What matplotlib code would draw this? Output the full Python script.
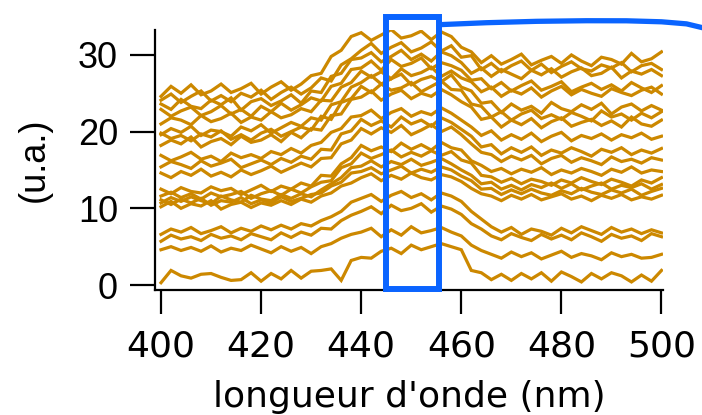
import numpy as np
import matplotlib
matplotlib.use("Agg")
import matplotlib.pyplot as plt
from matplotlib.patches import Rectangle

# longueurs d'onde (pas de 2 nm)
wavelength = np.arange(400, 501, 2)

# spectres décalés, du plus haut au plus bas
s01 = [24.6, 25.9, 25.0, 26.1, 24.8, 25.3, 26.2, 25.1, 25.6, 26.3,
       24.9, 25.8, 26.5, 25.4, 26.2, 27.3, 27.6, 29.8, 30.6, 32.4,
       32.9, 31.9, 32.6, 33.3, 32.2, 32.5, 33.1, 32.0, 33.0, 32.4,
       31.0, 30.4, 29.0, 29.9, 28.8, 29.4, 30.1, 28.7, 29.3, 29.8,
       28.9, 30.0, 29.2, 28.6, 29.7, 29.4, 28.8, 30.2, 29.1, 29.5, 30.4]
s02 = [24.1, 24.9, 23.8, 24.6, 25.3, 24.0, 24.7, 23.9, 25.0, 24.5,
       25.4, 24.2, 25.1, 25.8, 24.9, 25.7, 27.0, 26.6, 28.7, 29.5,
       30.6, 31.5, 30.2, 31.0, 31.6, 30.4, 30.9, 31.7, 30.5, 31.2,
       29.7, 29.9, 28.1, 28.9, 27.8, 28.6, 29.2, 28.0, 28.8, 27.7,
       28.5, 29.1, 28.2, 27.9, 28.7, 28.3, 29.0, 27.8, 28.6, 28.9, 28.1]
s03 = [23.6, 22.9, 24.2, 23.3, 23.0, 24.1, 23.5, 24.4, 22.8, 23.9,
       24.3, 23.4, 24.0, 24.8, 23.7, 25.3, 25.1, 27.2, 27.6, 29.4,
       29.6, 30.3, 29.1, 29.8, 30.6, 29.4, 30.1, 29.2, 30.4, 29.9,
       29.0, 27.6, 28.3, 27.2, 28.1, 27.5, 26.9, 28.0, 27.4, 28.2,
       27.1, 27.8, 28.3, 27.3, 27.6, 28.4, 27.0, 27.9, 27.5, 28.1, 27.3]
s04 = [22.9, 22.0, 22.7, 23.2, 22.1, 22.6, 23.4, 22.3, 22.9, 22.0,
       23.3, 22.6, 23.7, 22.8, 23.5, 24.4, 24.0, 25.9, 26.3, 28.1,
       28.3, 29.2, 28.0, 29.4, 28.5, 28.9, 29.6, 28.2, 29.0, 28.6,
       28.0, 26.7, 26.9, 25.6, 26.4, 25.3, 26.0, 26.6, 25.4, 25.9,
       26.5, 25.2, 25.8, 26.3, 25.5, 26.1, 25.3, 26.4, 25.7, 25.1, 26.0]
s05 = [21.0, 21.8, 21.5, 20.9, 22.1, 21.3, 21.7, 22.4, 21.2, 21.9,
       21.5, 22.6, 21.8, 22.2, 23.0, 22.6, 24.1, 24.0, 25.8, 26.4,
       27.9, 27.1, 27.8, 26.9, 28.2, 27.3, 27.7, 28.4, 27.2, 27.9,
       27.0, 26.5, 25.2, 25.8, 24.6, 25.4, 24.9, 25.7, 24.5, 25.3,
       25.9, 24.8, 25.5, 25.0, 24.6, 25.6, 25.1, 24.7, 25.4, 25.8, 24.9]
s06 = [19.6, 20.4, 19.9, 20.7, 19.5, 20.2, 20.0, 19.4, 20.6, 20.1,
       20.9, 19.8, 20.5, 21.2, 20.7, 21.8, 21.5, 23.5, 23.9, 25.8,
       26.4, 27.3, 26.2, 26.9, 27.5, 26.1, 26.8, 27.2, 26.5, 27.4,
       25.8, 25.3, 23.7, 23.9, 22.5, 23.6, 22.8, 23.3, 22.4, 23.8,
       23.0, 22.6, 23.5, 22.9, 23.7, 22.3, 23.2, 23.6, 22.7, 23.4, 22.8]
s07 = [19.8, 19.1, 19.5, 18.8, 19.7, 19.3, 20.1, 19.0, 19.6, 18.9,
       19.8, 20.3, 19.4, 20.0, 20.6, 20.2, 22.0, 21.6, 23.8, 24.3,
       25.9, 25.1, 26.2, 25.4, 25.7, 26.4, 25.2, 25.9, 26.6, 25.5,
       25.4, 23.6, 23.3, 21.9, 22.6, 21.5, 22.3, 22.8, 21.7, 22.2,
       21.6, 22.5, 22.0, 21.4, 22.7, 21.9, 22.3, 21.5, 22.4, 21.8, 22.6]
s08 = [18.2, 18.9, 18.4, 19.3, 18.0, 18.7, 19.1, 18.3, 19.4, 18.6,
       18.9, 19.6, 18.7, 19.9, 19.2, 20.4, 20.2, 22.1, 22.3, 24.2,
       24.5, 25.3, 24.1, 24.9, 25.4, 24.3, 25.0, 24.6, 25.5, 24.8,
       23.9, 23.2, 21.6, 21.9, 20.6, 21.5, 20.9, 21.7, 20.5, 21.3,
       21.8, 20.7, 21.2, 21.6, 20.8, 21.4, 20.6, 21.9, 21.0, 20.7, 21.5]
s09 = [16.9, 16.2, 16.7, 17.3, 16.4, 16.8, 16.1, 17.2, 16.6, 17.0,
       16.5, 17.4, 17.0, 17.8, 17.2, 18.2, 18.6, 19.9, 20.4, 21.9,
       22.1, 22.8, 21.7, 22.5, 23.0, 22.0, 22.6, 22.2, 23.1, 22.4,
       21.5, 20.6, 19.5, 20.1, 18.9, 19.6, 19.0, 19.8, 18.7, 19.4,
       19.9, 18.8, 19.5, 19.1, 19.7, 18.9, 19.6, 19.2, 19.8, 19.0, 19.4]
s10 = [15.4, 16.1, 15.7, 15.2, 16.2, 15.5, 15.9, 16.4, 15.3, 15.8,
       16.3, 15.7, 16.5, 16.0, 16.8, 16.4, 17.7, 17.6, 19.7, 20.1,
       21.6, 20.8, 21.4, 20.6, 21.9, 21.0, 21.5, 20.7, 21.8, 21.2,
       20.3, 19.4, 18.0, 18.3, 17.1, 17.9, 17.3, 18.0, 16.9, 17.6,
       17.2, 17.9, 17.4, 16.8, 17.7, 17.3, 17.9, 17.0, 17.6, 17.2, 17.8]
s11 = [14.6, 14.0, 14.8, 14.3, 15.1, 14.2, 14.7, 14.1, 15.0, 14.4,
       14.9, 15.5, 14.7, 15.3, 15.9, 15.4, 16.5, 16.6, 18.4, 18.9,
       20.4, 19.7, 20.5, 19.9, 20.8, 19.6, 20.2, 20.9, 20.0, 20.6,
       19.6, 18.4, 17.3, 17.0, 16.1, 16.8, 16.3, 16.9, 15.8, 16.5,
       16.9, 16.0, 16.6, 16.2, 15.7, 16.7, 16.1, 16.4, 15.9, 16.6, 16.3]
s12 = [12.5, 11.9, 12.7, 12.2, 12.0, 12.8, 12.3, 12.6, 11.8, 12.4,
       13.0, 12.2, 12.9, 12.5, 13.3, 12.9, 14.3, 14.2, 15.8, 16.6,
       18.2, 17.5, 18.0, 17.4, 18.5, 17.7, 18.3, 17.6, 18.6, 17.9,
       17.6, 16.2, 15.6, 14.8, 15.2, 14.5, 15.1, 14.7, 15.3, 14.4,
       15.0, 14.6, 15.2, 14.8, 14.3, 15.1, 14.7, 15.4, 14.6, 15.0, 14.8]
s13 = [11.6, 12.1, 11.4, 11.9, 11.2, 12.0, 11.5, 11.8, 12.2, 11.3,
       11.9, 12.3, 11.7, 12.5, 12.0, 12.8, 13.4, 13.6, 15.3, 15.8,
       17.2, 16.5, 17.0, 17.6, 16.7, 17.3, 16.8, 17.5, 16.9, 17.4,
       16.3, 15.9, 14.3, 14.1, 13.4, 13.9, 13.2, 13.8, 13.5, 13.0,
       13.7, 13.3, 14.0, 13.5, 13.1, 13.8, 13.4, 12.9, 13.7, 13.3, 14.0]
s14 = [10.7, 11.4, 10.9, 11.5, 11.0, 10.6, 11.6, 11.1, 10.8, 11.7,
       11.2, 11.0, 11.8, 11.3, 11.9, 11.5, 12.4, 13.2, 14.0, 15.3,
       15.5, 16.2, 15.4, 16.1, 15.7, 16.4, 15.6, 16.0, 16.5, 15.8,
       15.0, 14.3, 13.2, 13.4, 12.5, 13.0, 12.4, 13.1, 12.7, 13.3,
       12.6, 13.2, 12.4, 12.9, 13.3, 12.5, 13.0, 12.7, 13.2, 12.5, 13.1]
s15 = [11.1, 10.5, 11.2, 10.7, 11.3, 10.4, 11.0, 10.8, 11.4, 10.6,
       11.1, 10.7, 11.5, 10.9, 11.3, 11.8, 12.0, 12.9, 13.4, 14.6,
       14.8, 15.3, 14.5, 15.0, 15.5, 14.6, 15.1, 14.7, 15.4, 15.0,
       14.2, 13.6, 12.5, 12.6, 11.8, 12.4, 11.9, 12.5, 12.0, 11.7,
       12.3, 11.9, 12.6, 12.1, 11.8, 12.4, 12.0, 12.5, 11.7, 12.2, 12.6]
s16 = [10.2, 10.9, 10.0, 10.6, 10.3, 11.0, 9.9, 10.5, 10.8, 10.1,
       10.7, 10.4, 11.0, 10.5, 11.2, 10.8, 11.6, 12.0, 12.9, 13.3,
       14.0, 14.5, 13.6, 14.3, 13.8, 14.6, 14.0, 13.7, 14.4, 14.1,
       13.5, 12.6, 11.9, 11.6, 11.0, 11.7, 11.2, 11.8, 11.1, 11.5,
       11.9, 11.2, 11.6, 11.0, 11.7, 11.3, 11.8, 11.1, 11.5, 11.2, 11.7]
s17 = [6.6, 7.3, 6.9, 7.5, 6.7, 7.1, 7.6, 6.8, 7.4, 7.0,
       7.7, 7.2, 7.8, 7.3, 8.0, 7.7, 8.4, 8.9, 9.6, 10.8,
       11.3, 11.8, 10.9, 11.7, 12.2, 11.4, 11.9, 11.1, 12.0, 11.6,
       10.9, 9.6, 8.6, 7.6, 6.9, 7.5, 6.6, 7.3, 7.0, 6.5,
       7.4, 6.8, 7.6, 7.1, 6.6, 7.5, 6.9, 7.3, 6.7, 7.2, 6.8]
s18 = [5.7, 6.5, 6.0, 6.3, 5.8, 6.6, 6.1, 6.4, 5.9, 6.7,
       6.3, 5.9, 6.8, 6.2, 6.9, 6.5, 7.4, 7.3, 8.4, 9.1,
       9.6, 10.2, 9.3, 10.4, 9.7, 10.0, 10.6, 9.5, 10.3, 9.9,
       9.2, 8.0, 7.3, 6.4, 5.9, 6.7, 6.2, 5.8, 6.6, 6.0,
       6.5, 5.9, 6.8, 6.3, 5.7, 6.6, 6.1, 6.4, 5.8, 6.7, 6.3]
s19 = [4.6, 5.0, 4.5, 4.9, 4.4, 5.1, 4.3, 4.8, 4.5, 5.2,
       4.7, 4.2, 5.0, 4.4, 4.9, 4.1, 5.0, 5.4, 6.1, 6.6,
       6.9, 7.4, 6.3, 7.2, 6.5, 7.6, 6.8, 7.1, 7.5, 6.9,
       6.4, 5.2, 4.5, 4.0, 3.5, 4.3, 3.7, 4.2, 3.4, 3.9,
       4.4, 3.6, 4.1, 3.8, 3.3, 4.2, 3.7, 4.0, 3.5, 3.6, 4.0]
s20 = [0.3, 1.9, 1.2, 0.9, 1.4, 1.5, 1.0, 0.6, 0.7, 1.6,
       0.5, 1.5, 0.8, 1.9, 0.9, 1.8, 1.9, 2.1, 0.6, 3.2,
       3.6, 3.5, 4.4, 4.8, 4.1, 5.2, 4.6, 5.0, 5.4, 5.0,
       4.6, 1.9, 1.6, 0.7, 1.4, 0.6, 1.5, 0.8, 1.6, 0.5,
       1.7, 1.1, 0.4, 1.5, 0.8, 1.6, 1.2, 0.4, 1.3, 0.5, 1.9]
spectra = [s01, s02, s03, s04, s05, s06, s07, s08, s09, s10,
           s11, s12, s13, s14, s15, s16, s17, s18, s19, s20]

# zone sélectionnée (nm) et trait de rappel
zone_nm = (445.0, 455.5)
zone_y = (-0.5, 35.0)
callout_x = [455.8, 465.0, 475.0, 485.0, 493.0, 500.0, 505.0, 508.5]
callout_y = [33.95, 34.2, 34.38, 34.46, 34.45, 34.32, 34.05, 33.5]

xticks = [400, 420, 440, 460, 480, 500]
yticks = [0, 10, 20, 30]

orange = '#cc8800'
blue = '#0a64ff'

fig = plt.figure(figsize=(7.02, 4.15), dpi=100)
ax = fig.add_axes([155 / 702, 1 - 290 / 415, 508 / 702, 260 / 415])

for s in spectra:
    ax.plot(wavelength, s, color=orange, lw=2.3, solid_joinstyle='miter')

ax.add_patch(Rectangle((zone_nm[0], zone_y[0]), zone_nm[1] - zone_nm[0],
                       zone_y[1] - zone_y[0], fill=False, ec=blue, lw=4.3,
                       clip_on=False, zorder=5))
ax.plot(callout_x, callout_y, color=blue, lw=3.8, clip_on=False,
        solid_capstyle='butt', zorder=5)

ax.set_xlim(398.8, 500.3)
ax.set_ylim(-0.65, 33.25)
ax.set_xticks(xticks)
ax.set_yticks(yticks)

for side in ['top', 'right']:
    ax.spines[side].set_visible(False)
for side in ['left', 'bottom']:
    ax.spines[side].set_linewidth(1.6)

ax.tick_params(axis='x', direction='out', length=17, width=1.6, pad=11.5)
ax.tick_params(axis='y', direction='out', length=18, width=1.6, pad=8.6)
for lab in ax.get_xticklabels():
    lab.set_fontfamily('DejaVu Sans')
    lab.set_fontsize(26)
for lab in ax.get_yticklabels():
    lab.set_fontfamily('Liberation Sans')
    lab.set_fontsize(26)

ax.set_xlabel("longueur d'onde (nm)", fontsize=26, family='DejaVu Sans')
ax.xaxis.set_label_coords(0.5, -0.346)
ax.set_ylabel("(u.a.)", fontsize=26, family='Liberation Sans')
ax.yaxis.set_label_coords(-0.203, 0.5)

fig.savefig('out.png', dpi=100)
